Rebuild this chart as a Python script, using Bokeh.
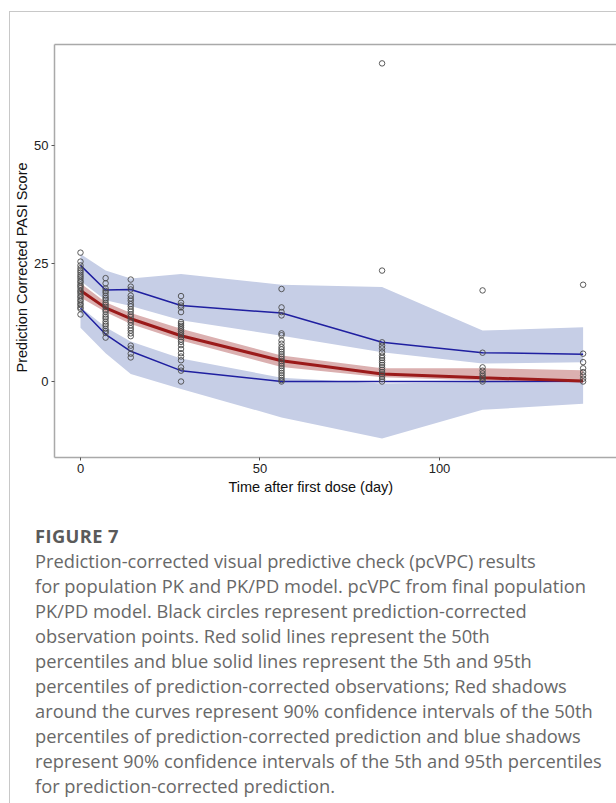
from bokeh.plotting import figure
from bokeh.models import Range1d, FixedTicker, LinearAxis, Title, Div
from bokeh.layouts import column
from bokeh.embed import file_html
from bokeh.resources import INLINE

# ---------------- data ----------------
TIME = [0, 7, 14, 28, 56, 84, 112, 140]

P95 = [24.6, 19.4, 19.5, 16.1, 14.5, 8.3, 6.1, 5.8]
P50 = [19.3, 15.6, 13.3, 9.7, 4.4, 1.6, 0.8, 0.1]
P05 = [15.5, 10.0, 6.4, 2.3, 0.0, 0.0, 0.0, 0.0]

P95_CI_HI = [27.0, 23.5, 21.8, 22.8, 20.5, 20.0, 10.8, 11.5]
P95_CI_LO = [21.3, 17.2, 16.0, 13.0, 9.7, 6.2, 3.8, 4.1]
P50_CI_HI = [20.8, 16.8, 14.5, 11.2, 5.5, 2.8, 2.8, 2.4]
P50_CI_LO = [17.8, 14.7, 12.2, 8.7, 3.1, 0.9, 0.2, -0.2]
P05_CI_HI = [15.8, 11.5, 8.5, 4.9, 0.8, -0.4, -0.1, -0.3]
P05_CI_LO = [11.4, 6.0, 1.6, -1.6, -7.6, -12.1, -6.0, -4.7]

OBS_T0 = [27.3, 25.4, 24.6, 24.0, 23.5, 23.1, 22.6, 22.2, 21.8, 21.3, 21.0, 20.5,
          20.2, 19.8, 19.3, 19.0, 18.6, 18.1, 17.8, 17.3, 17.0, 16.5, 16.2, 15.7,
          15.4, 14.2]
OBS_T7 = [21.9, 20.8, 19.7, 19.2, 18.8, 18.2, 17.7, 17.3, 16.7, 16.3, 15.8, 15.2,
          14.8, 14.2, 13.7, 13.3, 12.7, 12.2, 11.8, 11.2, 10.7, 10.3, 9.3]
OBS_T14 = [21.6, 20.1, 19.5, 18.2, 17.6, 17.1, 16.4, 15.9, 15.3, 14.8, 14.2, 13.7,
           13.0, 12.5, 11.9, 11.3, 10.8, 10.2, 9.6, 7.6, 7.0, 5.9, 5.1]
OBS_T28 = [18.1, 16.7, 16.1, 15.7, 14.7, 12.6, 12.2, 11.8, 11.4, 11.0, 10.6, 10.2,
           9.8, 9.4, 8.9, 8.4, 7.7, 6.9, 6.0, 5.3, 4.5, 3.0, 2.3, 0.0]
OBS_T56 = [19.6, 15.7, 14.7, 14.0, 10.2, 9.8, 8.7, 8.0, 7.3, 6.8, 6.3, 5.8, 5.3,
           4.8, 4.3, 3.8, 3.3, 2.8, 2.3, 1.8, 1.3, 0.8, 0.3, 0.0]
OBS_T84 = [67.4, 23.5, 8.3, 7.6, 7.0, 6.2, 5.5, 5.0, 4.5, 4.0, 3.5, 3.0, 2.5, 2.0,
           1.5, 1.0, 0.5, 0.0]
OBS_T112 = [19.3, 6.1, 3.0, 2.3, 1.7, 1.2, 0.8, 0.4, 0.0]
OBS_T140 = [20.5, 5.9, 4.1, 2.8, 2.0, 1.3, 0.6, 0.0]
OBS = [OBS_T0, OBS_T7, OBS_T14, OBS_T28, OBS_T56, OBS_T84, OBS_T112, OBS_T140]

X_TICKS = [0, 50, 100]
Y_TICKS = [0, 25, 50]
X_TITLE = "Time after first dose (day)"
Y_TITLE = "Prediction Corrected PASI Score"
FIG_LABEL = "FIGURE 7"
CAPTION_LINES = [
    "Prediction-corrected visual predictive check (pcVPC) results",
    "for population PK and PK/PD model. pcVPC from final population",
    "PK/PD model. Black circles represent prediction-corrected",
    "observation points. Red solid lines represent the 50th",
    "percentiles and blue solid lines represent the 5th and 95th",
    "percentiles of prediction-corrected observations; Red shadows",
    "around the curves represent 90% confidence intervals of the 50th",
    "percentiles of prediction-corrected prediction and blue shadows",
    "represent 90% confidence intervals of the 5th and 95th percentiles",
    "for prediction-corrected prediction.",
]

# ---------------- layout ----------------
FW, FH = 606, 500          # figure size (page offset 10, 12 because of card border)
X0, X1 = -7.24, 149.3
Y0, Y1 = -16.1, 71.4

p = figure(width=FW, height=FH, x_range=Range1d(X0, X1), y_range=Range1d(Y0, Y1),
           output_backend="svg", toolbar_location=None,
           min_border_left=44, min_border_right=0,
           min_border_top=32, min_border_bottom=55)
p.outline_line_color = None
p.grid.visible = False

AX = "#a9a9a9"
for ax in (p.xaxis, p.yaxis):
    ax.axis_line_color = AX
    ax.axis_line_width = 1.5
    ax.major_tick_line_color = "#555555"
    ax.major_tick_line_width = 1
    ax.major_tick_out = 3
    ax.major_tick_in = 0
    ax.minor_tick_line_color = None
    ax.major_label_text_font = "Liberation Sans"
    ax.major_label_text_font_size = "13px"
    ax.major_label_text_color = "#222222"
    ax.major_label_standoff = 3
p.xaxis.ticker = FixedTicker(ticks=X_TICKS)
p.yaxis.ticker = FixedTicker(ticks=Y_TICKS)

top = LinearAxis(ticker=FixedTicker(ticks=[]), axis_line_color=AX, axis_line_width=1.5,
                 major_tick_line_color=None, minor_tick_line_color=None)
p.add_layout(top, "above")

p.add_layout(Title(text=X_TITLE, align="left", offset=174, standoff=2,
                   text_font="Liberation Sans", text_font_size="14.5px",
                   text_font_style="normal", text_color="#111111"), "below")
p.add_layout(Title(text=Y_TITLE, align="left", offset=85, standoff=3,
                   text_font="Liberation Sans", text_font_size="14.5px",
                   text_font_style="normal", text_color="#111111"), "left")

BLUE_BAND = "#c6cee6"
RED_BAND = "#dbb0b0"
BLUE = "#1f1fa0"
RED = "#9b1a1a"

p.varea(x=TIME, y1=P95_CI_LO, y2=P95_CI_HI, fill_color=BLUE_BAND)
p.varea(x=TIME, y1=P05_CI_LO, y2=P05_CI_HI, fill_color=BLUE_BAND)
p.varea(x=TIME, y1=P50_CI_LO, y2=P50_CI_HI, fill_color=RED_BAND)

p.line(TIME, P95, line_color=BLUE, line_width=1.5)
p.line(TIME, P05, line_color=BLUE, line_width=1.5)
p.line(TIME, P50, line_color=RED, line_width=3)

xs, ys = [], []
for t, vals in zip(TIME, OBS):
    xs.extend([t] * len(vals))
    ys.extend(vals)
p.scatter(xs, ys, marker="circle", size=5.5, fill_color=None,
          line_color="#4a4a4a", line_width=0.9)

# caption
html = ('<div style="padding:11px 0 0 25px; font-family:\'Open Sans\', sans-serif; '
        'font-size:18.3px; line-height:25px; color:#686868; white-space:nowrap;">'
        '<span style="font-weight:bold; color:#5a5a5a; letter-spacing:0.4px;">'
        + FIG_LABEL + '</span><br>'
        + '<br>'.join(CAPTION_LINES) + '</div>')
cap = Div(text=html, width=FW, height=291, margin=0)

page = column(p, cap, spacing=0, margin=(11, 0, 0, 9),
              styles={"border-top": "1px solid #c8c8c8",
                      "border-left": "1px solid #c8c8c8"})

open("out.html", "w").write(file_html(page, INLINE))
